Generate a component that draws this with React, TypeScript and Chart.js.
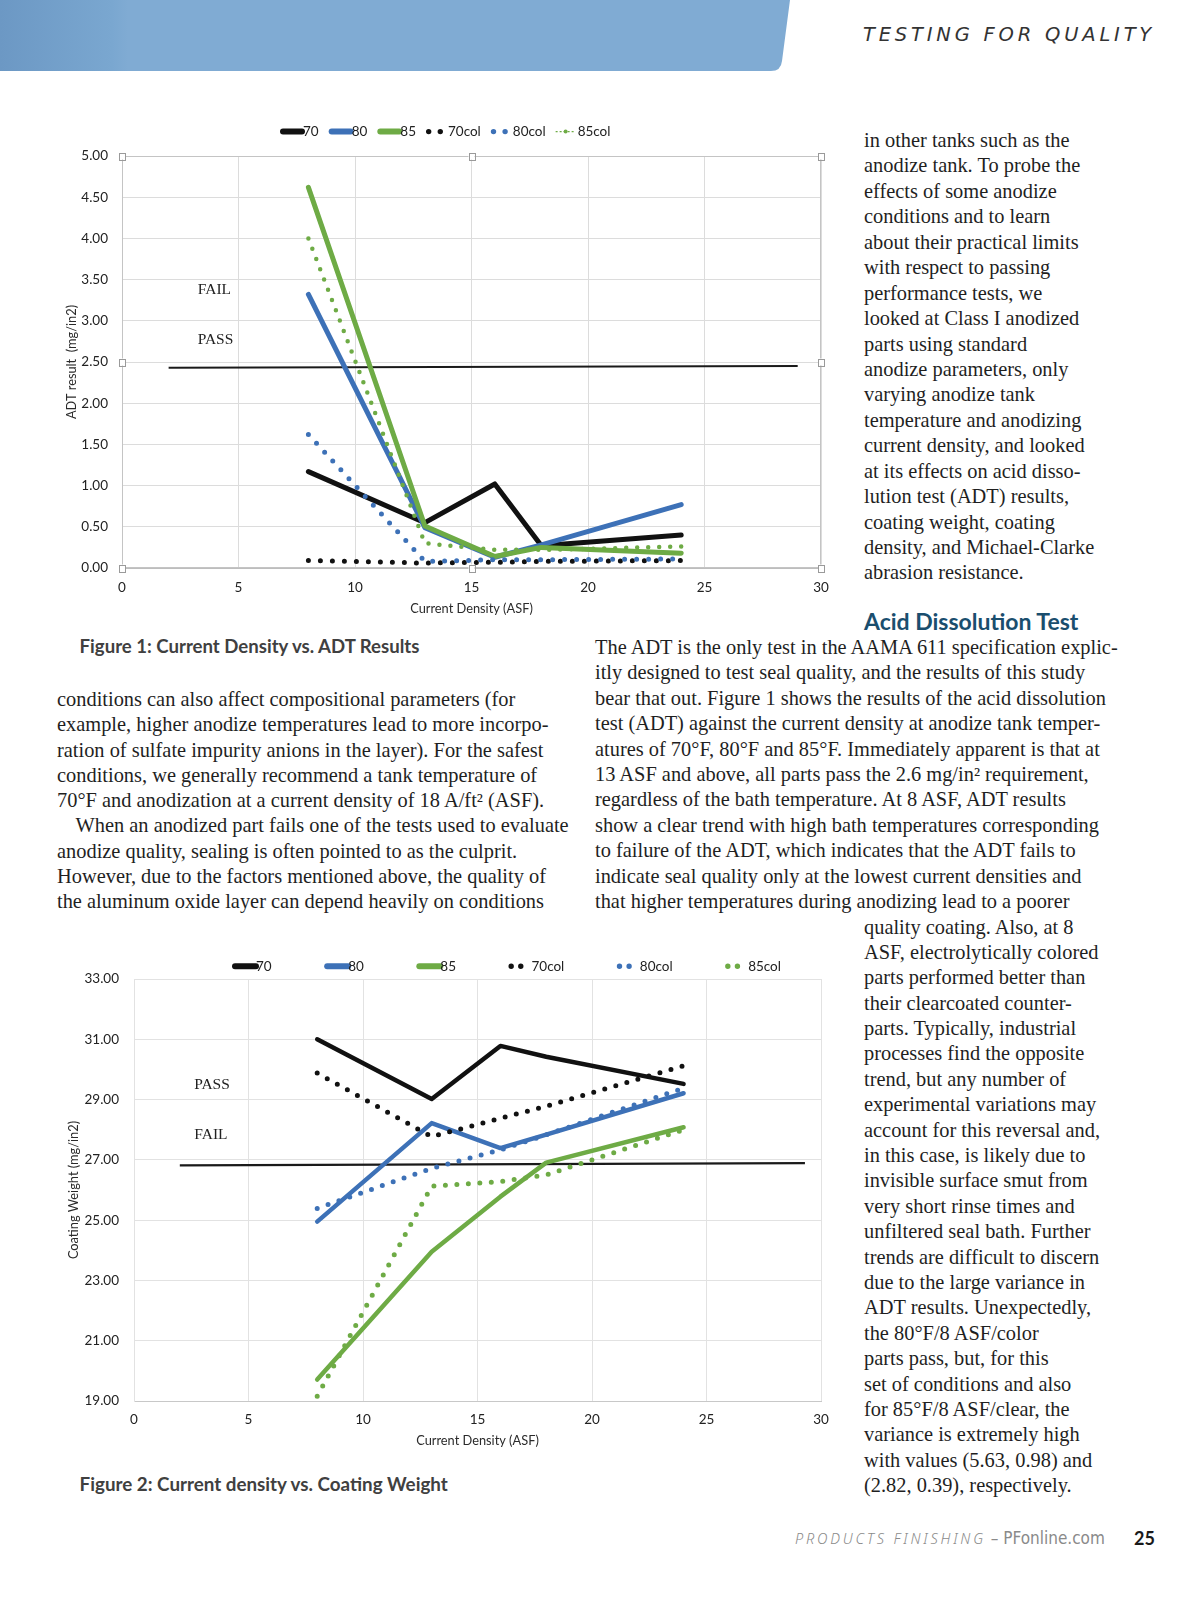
import React, { useEffect, useRef } from 'react';
import { Chart, registerables } from 'chart.js';

Chart.register(...registerables);

// ---------------- data ----------------
const densityASF = [8, 13, 16, 18, 24];
const seriesLabels = ['70', '80', '85', '70col', '80col', '85col'];

// Figure 1: ADT result (mg/in2)
const adt70 = [1.17, 0.55, 1.02, 0.27, 0.4];
const adt80 = [3.32, 0.49, 0.13, 0.28, 0.77];
const adt85 = [4.62, 0.51, 0.14, 0.25, 0.18];
const adt70col = [0.09, 0.06, 0.07, 0.08, 0.09];
const adt80col = [1.62, 0.08, 0.1, 0.1, 0.11];
const adt85col = [4.0, 0.3, 0.22, 0.22, 0.26];
const adtLimitX = [2, 29];
const adtLimitY = [2.43, 2.45];
const adtZoneText = ['FAIL', 'PASS'];
const adtZoneX = [3.25, 3.25];
const adtZoneY = [3.37, 2.77];

// Figure 2: Coating weight (mg/in2)
const cw70 = [31.0, 29.02, 30.78, 30.42, 29.52];
const cw80 = [24.95, 28.22, 27.39, 27.84, 29.21];
const cw85 = [19.71, 23.95, 25.78, 26.91, 28.08];
const cw70col = [29.88, 27.77, 28.38, 28.78, 30.12];
const cw80col = [25.39, 26.72, 27.33, 27.83, 29.38];
const cw85col = [19.16, 26.13, 26.28, 26.5, 28.0];
const cwLimitX = [2, 29.3];
const cwLimitY = [26.82, 26.89];
const cwZoneText = ['PASS', 'FAIL'];
const cwZoneX = [2.63, 2.63];
const cwZoneY = [29.49, 27.83];

// ---------------- text ----------------
const leftColLines = [
  'conditions can also affect compositional parameters (for',
  'example, higher anodize temperatures lead to more incorpo-',
  'ration of sulfate impurity anions in the layer). For the safest',
  'conditions, we generally recommend a tank temperature of',
  '70°F and anodization at a current density of 18 A/ft² (ASF).',
  'When an anodized part fails one of the tests used to evaluate',
  'anodize quality, sealing is often pointed to as the culprit.',
  'However, due to the factors mentioned above, the quality of',
  'the aluminum oxide layer can depend heavily on conditions',
];
const middleColLines = [
  'The ADT is the only test in the AAMA 611 specification explic-',
  'itly designed to test seal quality, and the results of this study',
  'bear that out. Figure 1 shows the results of the acid dissolution',
  'test (ADT) against the current density at anodize tank temper-',
  'atures of 70°F, 80°F and 85°F. Immediately apparent is that at',
  '13 ASF and above, all parts pass the 2.6 mg/in² requirement,',
  'regardless of the bath temperature. At 8 ASF, ADT results',
  'show a clear trend with high bath temperatures corresponding',
  'to failure of the ADT, which indicates that the ADT fails to',
  'indicate seal quality only at the lowest current densities and',
  'that higher temperatures during anodizing lead to a poorer',
];
const rightTopLines = [
  'in other tanks such as the',
  'anodize tank. To probe the',
  'effects of some anodize',
  'conditions and to learn',
  'about their practical limits',
  'with respect to passing',
  'performance tests, we',
  'looked at Class I anodized',
  'parts using standard',
  'anodize parameters, only',
  'varying anodize tank',
  'temperature and anodizing',
  'current density, and looked',
  'at its effects on acid disso-',
  'lution test (ADT) results,',
  'coating weight, coating',
  'density, and Michael-Clarke',
  'abrasion resistance.',
];
const rightBottomLines = [
  'quality coating. Also, at 8',
  'ASF, electrolytically colored',
  'parts performed better than',
  'their clearcoated counter-',
  'parts. Typically, industrial',
  'processes find the opposite',
  'trend, but any number of',
  'experimental variations may',
  'account for this reversal and,',
  'in this case, is likely due to',
  'invisible surface smut from',
  'very short rinse times and',
  'unfiltered seal bath. Further',
  'trends are difficult to discern',
  'due to the large variance in',
  'ADT results. Unexpectedly,',
  'the 80°F/8 ASF/color',
  'parts pass, but, for this',
  'set of conditions and also',
  'for 85°F/8 ASF/clear, the',
  'variance is extremely high',
  'with values (5.63, 0.98) and',
  '(2.82, 0.39), respectively.',
];

// ---------------- styling ----------------
const BLACK = '#111111';
const BLUE = '#3d71b7';
const GREEN = '#6eab45';
const CHART_FONT = 'Lato, "Open Sans", sans-serif';
const SERIF = '"Liberation Serif", "Times New Roman", serif';

type Kind = 'solid' | 'dots' | 'thin';

function pts(xs: number[], ys: number[]) {
  return xs.map((x, i) => ({ x, y: ys[i] }));
}

function lineSet(label: string, ys: number[], color: string, kind: Kind, width: number, dotGap: number, order: number) {
  const ds: any = {
    label,
    data: pts(densityASF, ys),
    borderColor: color,
    backgroundColor: color,
    borderWidth: width,
    pointRadius: 0,
    pointHoverRadius: 0,
    fill: false,
    tension: 0,
    borderCapStyle: 'round',
    borderJoinStyle: 'round',
    legendKind: kind,
    order,
  };
  if (kind !== 'solid') {
    ds.borderDash = [0, dotGap];
  }
  return ds;
}

function limitSet(xs: number[], ys: number[], width: number) {
  return {
    label: 'limit',
    data: pts(xs, ys),
    borderColor: '#1a1a1a',
    borderWidth: width,
    pointRadius: 0,
    fill: false,
    order: 10,
  };
}

function makeLegendPlugin(cfg: any) {
  return {
    id: 'pageLegend',
    afterDraw(chart: any) {
      const { ctx } = chart;
      ctx.save();
      ctx.font = cfg.font;
      ctx.textBaseline = 'middle';
      ctx.textAlign = 'left';
      let x = cfg.x;
      const y = cfg.y;
      chart.data.datasets.forEach((ds: any) => {
        const kind: Kind | undefined = ds.legendKind;
        if (!kind) return;
        const spec = cfg[kind];
        ctx.strokeStyle = ds.borderColor;
        ctx.fillStyle = ds.borderColor;
        if (kind === 'solid') {
          ctx.lineWidth = cfg.solidWidth;
          ctx.lineCap = 'round';
          ctx.setLineDash([]);
          ctx.beginPath();
          ctx.moveTo(x + cfg.solidWidth / 2, y);
          ctx.lineTo(x + spec.w, y);
          ctx.stroke();
        } else if (kind === 'dots') {
          const r = cfg.dotRadius;
          ctx.beginPath();
          ctx.arc(x + r, y, r, 0, Math.PI * 2);
          ctx.arc(x + spec.w - r, y, r, 0, Math.PI * 2);
          ctx.fill();
        } else {
          ctx.lineWidth = 1.4;
          ctx.lineCap = 'butt';
          ctx.setLineDash([2, 2]);
          ctx.beginPath();
          ctx.moveTo(x, y);
          ctx.lineTo(x + spec.w, y);
          ctx.stroke();
          ctx.setLineDash([]);
          ctx.beginPath();
          ctx.arc(x + spec.w / 2, y, 2, 0, Math.PI * 2);
          ctx.fill();
        }
        x += spec.w + spec.gap;
        ctx.fillStyle = cfg.color;
        ctx.fillText(ds.label, x, y);
        x += ctx.measureText(ds.label).width + cfg.itemGap;
      });
      ctx.restore();
    },
  };
}

function makeZonePlugin(texts: string[], xs: number[], ys: number[]) {
  return {
    id: 'zoneLabels',
    afterDatasetsDraw(chart: any) {
      const { ctx } = chart;
      const sx = chart.scales.x;
      const sy = chart.scales.y;
      ctx.save();
      ctx.font = '15.5px ' + SERIF;
      ctx.fillStyle = '#222';
      ctx.textBaseline = 'middle';
      ctx.textAlign = 'left';
      texts.forEach((t, i) => ctx.fillText(t, sx.getPixelForValue(xs[i]), sy.getPixelForValue(ys[i])));
      ctx.restore();
    },
  };
}

const frameHandlePlugin = {
  id: 'frameHandles',
  beforeDatasetsDraw(chart: any) {
    const { ctx, chartArea: a } = chart;
    ctx.save();
    ctx.strokeStyle = '#c4c4c4';
    ctx.lineWidth = 1;
    ctx.strokeRect(a.left + 0.5, a.top + 0.5, a.right - a.left - 1, a.bottom - a.top - 1);
    ctx.restore();
  },
  afterDraw(chart: any) {
    const { ctx, chartArea: a } = chart;
    const mx = (a.left + a.right) / 2;
    const my = (a.top + a.bottom) / 2;
    const spots = [
      [a.left, a.top], [mx, a.top], [a.right, a.top],
      [a.left, my], [a.right, my],
      [a.left, a.bottom], [mx, a.bottom], [a.right, a.bottom],
    ];
    ctx.save();
    ctx.fillStyle = '#ffffff';
    ctx.strokeStyle = '#9a9a9a';
    ctx.lineWidth = 1;
    spots.forEach(([px, py]) => {
      ctx.fillRect(px - 3, py - 3.5, 6, 7);
      ctx.strokeRect(Math.round(px - 3) + 0.5, Math.round(py - 3.5) + 0.5, 6, 7);
    });
    ctx.restore();
  },
};

function buildAdtChart(canvas: HTMLCanvasElement) {
  const datasets = [
    lineSet(seriesLabels[0], adt70, BLACK, 'solid', 5, 0, 6),
    lineSet(seriesLabels[1], adt80, BLUE, 'solid', 5, 0, 5),
    lineSet(seriesLabels[2], adt85, GREEN, 'solid', 5, 0, 4),
    lineSet(seriesLabels[3], adt70col, BLACK, 'dots', 5, 12, 3),
    lineSet(seriesLabels[4], adt80col, BLUE, 'dots', 5, 12, 2),
    lineSet(seriesLabels[5], adt85col, GREEN, 'thin', 4.5, 11, 1),
    limitSet(adtLimitX, adtLimitY, 2),
  ];
  return new Chart(canvas, {
    type: 'line',
    data: { datasets },
    options: {
      responsive: false,
      animation: false,
      layout: { padding: { left: 0, right: 29, top: 46, bottom: 0 } },
      plugins: { legend: { display: false }, tooltip: { enabled: false } },
      scales: {
        x: {
          type: 'linear',
          min: 0,
          max: 30,
          ticks: { stepSize: 5, padding: 12, color: '#222', font: { family: CHART_FONT, size: 13.5 } },
          grid: { color: '#dcdcdc', drawTicks: false },
          border: { color: '#bdbdbd' },
          title: { display: true, text: 'Current Density (ASF)', color: '#2a2a2a', font: { family: CHART_FONT, size: 12.8 }, padding: { top: 0, bottom: 8 } },
          afterFit: (s: any) => { s.height = 57; },
        },
        y: {
          type: 'linear',
          min: 0,
          max: 5,
          ticks: { stepSize: 0.5, padding: 14, color: '#222', font: { family: CHART_FONT, size: 13.5 }, callback: (v: any) => Number(v).toFixed(2) },
          grid: { color: '#dcdcdc', drawTicks: false },
          border: { color: '#bdbdbd' },
          title: { display: true, text: 'ADT result  (mg/in2)', color: '#2a2a2a', font: { family: CHART_FONT, size: 12.8 }, padding: { top: 14, bottom: 0 } },
          afterFit: (s: any) => { s.width = 72; },
        },
      },
    } as any,
    plugins: [
      frameHandlePlugin,
      makeZonePlugin(adtZoneText, adtZoneX, adtZoneY),
      makeLegendPlugin({
        x: 230, y: 21.6, font: '13.5px ' + CHART_FONT, color: '#222', itemGap: 10,
        solidWidth: 6, dotRadius: 2.7,
        solid: { w: 22, gap: 1 }, dots: { w: 17, gap: 5 }, thin: { w: 20, gap: 2 },
      }),
    ],
  });
}

function buildCwChart(canvas: HTMLCanvasElement) {
  const datasets = [
    lineSet(seriesLabels[0], cw70, BLACK, 'solid', 4.5, 0, 6),
    lineSet(seriesLabels[1], cw80, BLUE, 'solid', 4.5, 0, 5),
    lineSet(seriesLabels[2], cw85, GREEN, 'solid', 4.5, 0, 4),
    lineSet(seriesLabels[3], cw70col, BLACK, 'dots', 5, 11.5, 3),
    lineSet(seriesLabels[4], cw80col, BLUE, 'dots', 5, 11.5, 2),
    lineSet(seriesLabels[5], cw85col, GREEN, 'dots', 5, 11.5, 1),
    limitSet(cwLimitX, cwLimitY, 2.2),
  ];
  return new Chart(canvas, {
    type: 'line',
    data: { datasets },
    options: {
      responsive: false,
      animation: false,
      layout: { padding: { left: 0, right: 29, top: 49, bottom: 0 } },
      plugins: { legend: { display: false }, tooltip: { enabled: false } },
      scales: {
        x: {
          type: 'linear',
          min: 0,
          max: 30,
          ticks: { stepSize: 5, padding: 11, color: '#222', font: { family: CHART_FONT, size: 13.5 } },
          grid: { color: '#e2e2e2', drawTicks: false },
          border: { color: '#c8c8c8' },
          title: { display: true, text: 'Current Density (ASF)', color: '#2a2a2a', font: { family: CHART_FONT, size: 12.8 }, padding: { top: 0, bottom: 11.5 } },
          afterFit: (s: any) => { s.height = 59; },
        },
        y: {
          type: 'linear',
          min: 19,
          max: 33,
          ticks: { stepSize: 2, padding: 15, color: '#222', font: { family: CHART_FONT, size: 13.5 }, callback: (v: any) => Number(v).toFixed(2) },
          grid: { color: '#e2e2e2', drawTicks: false },
          border: { color: '#e2e2e2' },
          title: { display: true, text: 'Coating Weight (mg/in2)', color: '#2a2a2a', font: { family: CHART_FONT, size: 12.8 }, padding: { top: 16, bottom: 0 } },
          afterFit: (s: any) => { s.width = 84; },
        },
      },
    } as any,
    plugins: [
      makeZonePlugin(cwZoneText, cwZoneX, cwZoneY),
      makeLegendPlugin({
        x: 182, y: 36.3, font: '13.5px ' + CHART_FONT, color: '#222', itemGap: 52.5,
        solidWidth: 6, dotRadius: 2.7,
        solid: { w: 24, gap: 0 }, dots: { w: 15, gap: 8 }, thin: { w: 20, gap: 2 },
      }),
    ],
  });
}

function ChartCanvas(props: { left: number; top: number; width: number; height: number; build: (c: HTMLCanvasElement) => Chart }) {
  const ref = useRef<HTMLCanvasElement>(null);
  useEffect(() => {
    const chart = props.build(ref.current as HTMLCanvasElement);
    return () => chart.destroy();
  }, []);
  return (
    <canvas
      ref={ref}
      width={props.width}
      height={props.height}
      style={{ position: 'absolute', left: props.left, top: props.top, width: props.width, height: props.height }}
    />
  );
}

function TextBlock(props: { lines: string[]; left: number; top: number; lineHeight: number; indentIndex?: number; indent?: number }) {
  return (
    <div
      style={{
        position: 'absolute',
        left: props.left,
        top: props.top,
        fontFamily: SERIF,
        fontSize: 20.4,
        lineHeight: props.lineHeight + 'px',
        color: '#1f1f1f',
        whiteSpace: 'nowrap',
        zIndex: 2,
      }}
    >
      {props.lines.map((l, i) => (
        <div key={i} style={{ paddingLeft: i === props.indentIndex ? props.indent : 0, height: props.lineHeight }}>
          {l}
        </div>
      ))}
    </div>
  );
}

export default function App() {
  useEffect(() => {
    document.body.style.margin = '0';
  }, []);
  return (
    <div style={{ position: 'absolute', left: 0, top: 0, width: 1200, height: 1600, background: '#ffffff', overflow: 'hidden' }}>
      {/* header band */}
      <svg width={800} height={80} style={{ position: 'absolute', left: 0, top: 0 }}>
        <defs>
          <linearGradient id="band" x1="0" y1="0" x2="800" y2="0" gradientUnits="userSpaceOnUse">
            <stop offset="0" stopColor="#6c98c4" />
            <stop offset="0.14" stopColor="#7aa7d0" />
            <stop offset="0.16" stopColor="#80abd3" />
            <stop offset="1" stopColor="#80abd3" />
          </linearGradient>
        </defs>
        <path d="M0 0 H790 L782 61 Q781 71 771 71 H0 Z" fill="url(#band)" />
      </svg>
      <div
        style={{
          position: 'absolute', left: 863, top: 23, fontFamily: '"DejaVu Sans", sans-serif', fontStyle: 'italic',
          fontSize: 19.5, letterSpacing: 3.8, color: '#333', whiteSpace: 'nowrap', lineHeight: '24px',
        }}
      >
        TESTING FOR QUALITY
      </div>

      {/* figure 1 */}
      <ChartCanvas left={50} top={110} width={800} height={515} build={buildAdtChart} />
      <div style={{ position: 'absolute', left: 79.6, top: 636, fontFamily: CHART_FONT, fontWeight: 700, fontSize: 18.6, color: '#404040', whiteSpace: 'nowrap', lineHeight: '20px' }}>
        Figure 1: Current Density vs. ADT Results
      </div>

      {/* figure 2 */}
      <ChartCanvas left={50} top={930} width={800} height={530} build={buildCwChart} />
      <div style={{ position: 'absolute', left: 79.6, top: 1473.5, fontFamily: CHART_FONT, fontWeight: 700, fontSize: 18.8, color: '#404040', whiteSpace: 'nowrap', lineHeight: '20px' }}>
        Figure 2: Current density vs. Coating Weight
      </div>

      {/* text columns */}
      <TextBlock lines={rightTopLines} left={864} top={128} lineHeight={25.45} />
      <div style={{ position: 'absolute', left: 864, top: 608, fontFamily: CHART_FONT, fontWeight: 700, fontSize: 23, color: '#1a4e6e', whiteSpace: 'nowrap', lineHeight: '26px' }}>
        Acid Dissolution Test
      </div>
      <TextBlock lines={leftColLines} left={57} top={687} lineHeight={25.3} indentIndex={5} indent={18.5} />
      <TextBlock lines={middleColLines} left={595} top={635} lineHeight={25.4} />
      <TextBlock lines={rightBottomLines} left={864} top={914.5} lineHeight={25.4} />

      {/* footer */}
      <div style={{ position: 'absolute', left: 795, top: 1527, whiteSpace: 'nowrap', lineHeight: '22px', color: '#8a8a8a' }}>
        <span style={{ fontFamily: '"Noto Sans", sans-serif', fontStyle: 'italic', fontWeight: 300, fontSize: 14.5, letterSpacing: 2.8 }}>PRODUCTS FINISHING</span>
        <span style={{ fontFamily: '"Liberation Sans Narrow", "DejaVu Sans Condensed", Roboto, sans-serif', fontSize: 17 }}> – PFonline.com</span>
      </div>
      <div style={{ position: 'absolute', left: 1134, top: 1527, fontFamily: CHART_FONT, fontWeight: 700, fontSize: 18, color: '#1a1a1a', lineHeight: '22px' }}>
        25
      </div>
    </div>
  );
}
